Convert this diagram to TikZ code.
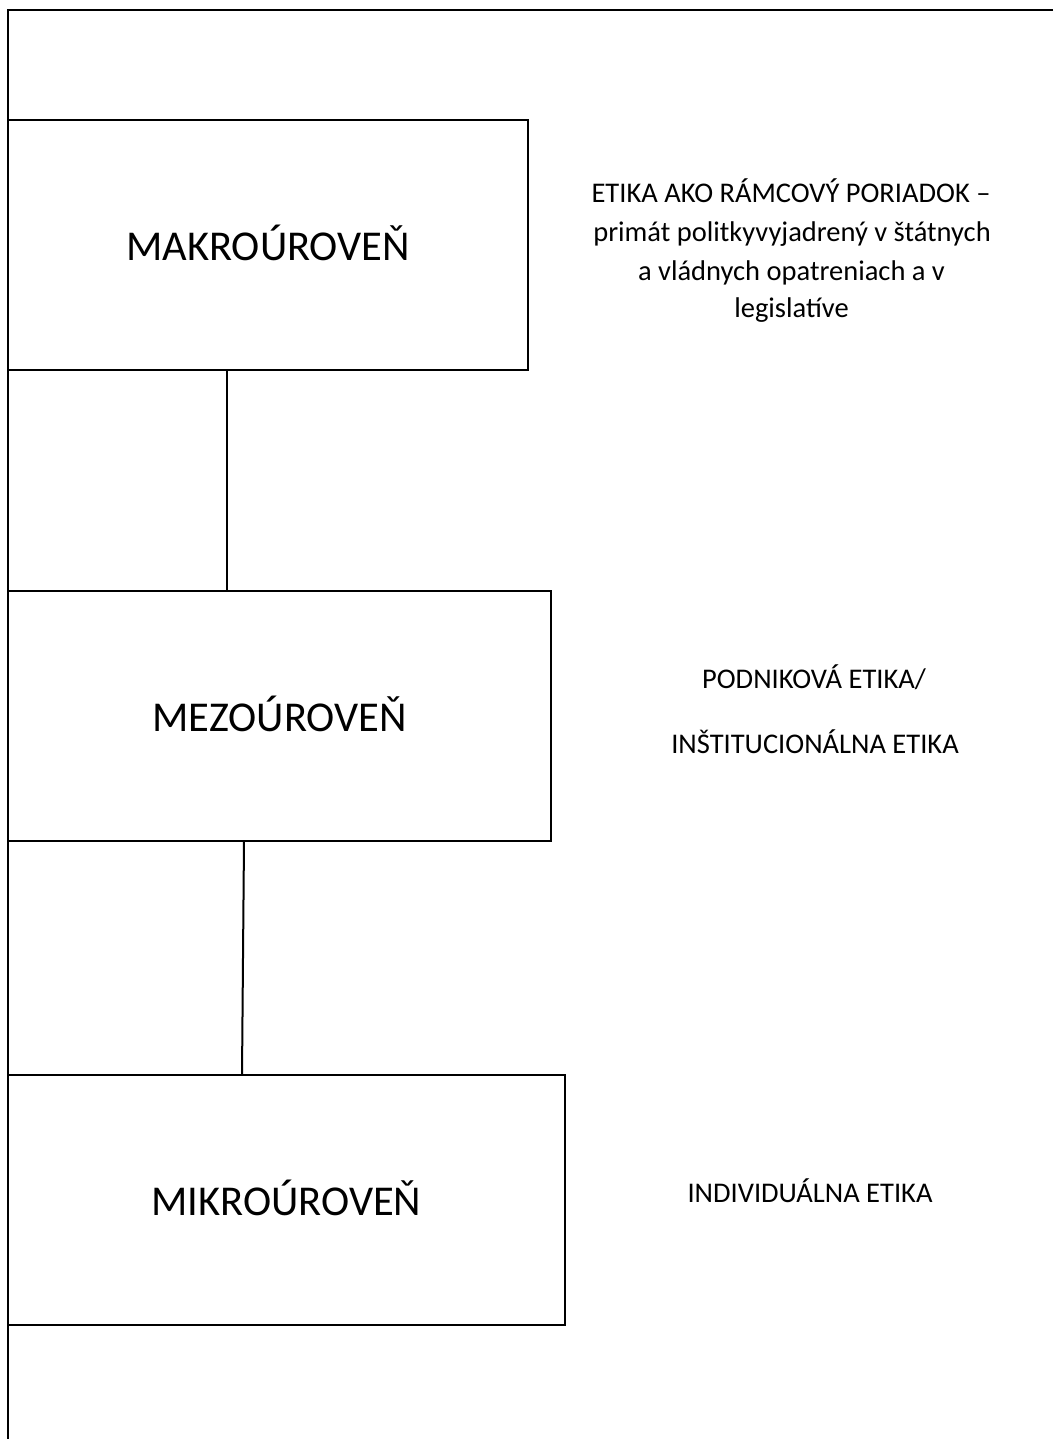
\documentclass[tikz,border=0pt]{standalone}
\usepackage{fontspec}
\setmainfont{Carlito}
\begin{document}
\begin{tikzpicture}[x=1pt,y=-1pt,
  levelbox/.style={draw=black, line width=2pt, inner sep=0pt, outer sep=0pt,
    minimum height=250pt, text height=30pt, text depth=0pt,
    font=\fontsize{42.5}{50}\selectfont},
  side/.style={anchor=base, inner sep=0pt, font=\fontsize{28.5}{34}\selectfont},
  link/.style={line width=2pt}]
\useasboundingbox (0,0) rectangle (1053,1439);
\fill[white] (0,0) rectangle (1053,1439);
% outer frame (top and left sides)
\coordinate (ftr) at (1053,10);
\coordinate (ftl) at (8,10);
\coordinate (fbl) at (8,1439);
\draw[line width=2pt] (ftr) -- (ftl) -- (fbl);
% level boxes
\node[levelbox, minimum width=520pt] (b1) at (268,245) {MAKROÚROVEŇ};
\node[levelbox, minimum width=543pt] (b2) at (279.5,716) {MEZOÚROVEŇ};
\node[levelbox, minimum width=557pt] (b3) at (286.5,1200) {MIKROÚROVEŇ};
% connectors
\coordinate (c1) at (227,0);
\coordinate (c2a) at (244,0);
\coordinate (c2b) at (242,0);
\draw[link] (b1.south -| c1) -- (b2.north -| c1);
\draw[link] (b2.south -| c2a) -- (b3.north -| c2b);
% side texts
\node[side] (t1a) at (791,203) {ETIKA AKO RÁMCOVÝ PORIADOK –};
\node[side] (t1b) at (792,241.5) {primát politkyvyjadrený v štátnych};
\node[side] (t1c) at (791.5,280) {a vládnych opatreniach a v};
\node[side] (t1d) at (791.5,317) {legislatíve};
\node[side] (t2a) at (814,688) {PODNIKOVÁ ETIKA/};
\node[side] (t2b) at (815,753) {INŠTITUCIONÁLNA ETIKA};
\node[side] (t3) at (810,1202) {INDIVIDUÁLNA ETIKA};
\end{tikzpicture}
\end{document}
